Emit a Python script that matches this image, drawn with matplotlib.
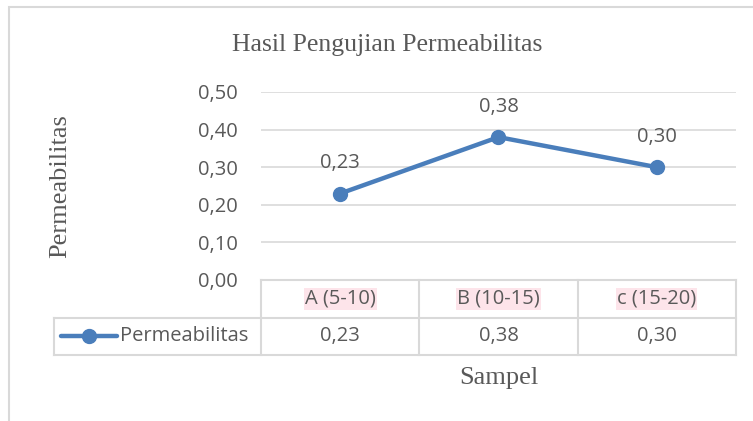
import matplotlib.pyplot as plt
from matplotlib.patches import Rectangle

categories = ["A (5-10)", "B (10-15)", "c (15-20)"]
values = [0.23, 0.38, 0.30]
value_labels = ["0,23", "0,38", "0,30"]
yticks = [0.0, 0.1, 0.2, 0.3, 0.4, 0.5]
ytick_labels = ["0,00", "0,10", "0,20", "0,30", "0,40", "0,50"]
series_name = "Permeabilitas"

W, H = 753, 421
blue = "#4a7ebb"
grid = "#d9d9d9"
txt = "#595959"
sans = ["Open Sans", "DejaVu Sans"]
serif = ["Liberation Serif", "DejaVu Serif"]
fs = 14.5

fig = plt.figure(figsize=(W / 100, H / 100), dpi=100)

# outer chart frame (only top/left visible in the reference)
fig.patches.append(Rectangle((9 / W, -0.1), 1.2, 1 - 7 / H + 0.1,
                             transform=fig.transFigure, fill=False,
                             edgecolor=grid, lw=1.5))

left, right, top, bottom = 261, 736, 92, 280
ax = fig.add_axes([left / W, 1 - bottom / H, (right - left) / W, (bottom - top) / H])

x = list(range(len(categories)))
ax.set_xlim(-0.5, len(categories) - 0.5)
ax.set_ylim(0, 0.5)
ax.set_yticks(yticks)
ax.set_yticklabels(ytick_labels, fontsize=fs, color=txt, family=sans)
ax.tick_params(axis="y", length=0, pad=17)
ax.set_xticks([])
for s in ax.spines.values():
    s.set_visible(False)
ax.grid(axis="y", color=grid, lw=1.2)
ax.set_axisbelow(True)

ax.plot(x, values, color=blue, lw=3.2, marker="o", markersize=10, zorder=3)
for xi, v, lab in zip(x, values, value_labels):
    ax.annotate(lab, (xi, v), xytext=(0, 22), textcoords="offset points",
                ha="center", va="center", fontsize=fs, color=txt, family=sans)

# data table under the axis
rh = 37.5 / (bottom - top)          # row height in axes fraction
tleft = (54 - left) / (right - left)
tr = ax.transAxes
lk = dict(color=grid, lw=1.5, transform=tr, clip_on=False)
ax.plot([0, 1], [0, 0], **lk)
ax.plot([tleft, 1], [-rh, -rh], **lk)
ax.plot([tleft, 1], [-2 * rh, -2 * rh], **lk)
ax.plot([tleft, tleft], [-rh, -2 * rh], **lk)
for i in range(len(categories) + 1):
    xf = i / len(categories)
    ax.plot([xf, xf], [0, -2 * rh], **lk)

for i, (c, lab) in enumerate(zip(categories, value_labels)):
    xc = (i + 0.5) / len(categories)
    ax.text(xc, -rh / 2, c, transform=tr, ha="center", va="center",
            fontsize=fs, color=txt, family=sans,
            bbox=dict(boxstyle="square,pad=0.05", fc="#fde4ea", ec="none"))
    ax.text(xc, -1.5 * rh, lab, transform=tr, ha="center", va="center",
            fontsize=fs, color=txt, family=sans)

# legend key in the table
kx0 = (61 - left) / (right - left)
kx1 = (117 - left) / (right - left)
ax.plot([kx0, kx1], [-1.5 * rh, -1.5 * rh], color=blue, lw=3.2,
        solid_capstyle="round", transform=tr, clip_on=False)
ax.plot([(kx0 + kx1) / 2], [-1.5 * rh], color=blue, marker="o",
        markersize=10, transform=tr, clip_on=False)
ax.text((120 - left) / (right - left), -1.5 * rh, series_name, transform=tr,
        ha="left", va="center", fontsize=fs, color=txt, family=sans)

fig.text(387 / W, 1 - 45 / H, "Hasil Pengujian Permeabilitas", ha="center",
         va="center", fontsize=18.5, color=txt, family=serif)
fig.text(60 / W, 1 - 186 / H, "Permeabilitas", ha="center", va="center",
         rotation=90, fontsize=19, color=txt, family=serif)
fig.text(499 / W, 1 - 378 / H, "Sampel", ha="center", va="center",
         fontsize=19, color=txt, family=serif)

fig.savefig("out.png", dpi=100)
